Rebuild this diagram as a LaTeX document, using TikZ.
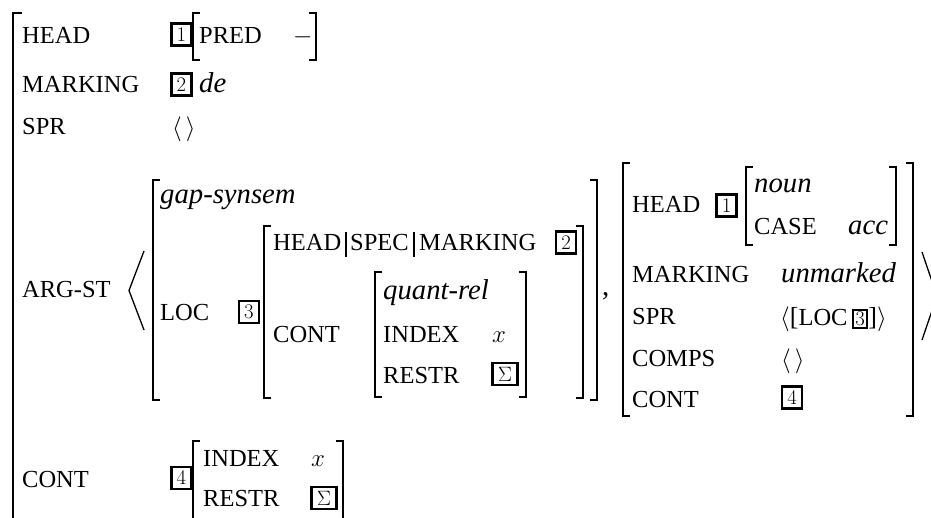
\documentclass[tikz,border=0pt]{standalone}
\usepackage{fontspec}
\setmainfont{Liberation Serif}
\newcommand{\tgx}[1]{{\setlength{\fboxsep}{1.5pt}\setlength{\fboxrule}{2pt}\fbox{\fontsize{20}{20}\selectfont$#1$}}}
\begin{document}
\begin{tikzpicture}[x=1pt,y=-1pt,
  fn/.style={anchor=base west, inner sep=0pt, font=\fontsize{24.5}{26}\selectfont},
  vl/.style={anchor=base west, inner sep=0pt, font=\fontsize{28.7}{30}\selectfont\itshape},
  mth/.style={anchor=base west, inner sep=0pt, font=\fontsize{25}{26}\selectfont},
  ang/.style={anchor=base west, inner sep=0pt, font=\fontsize{29}{30}\selectfont},
  tagb/.style={draw, line width=2.2pt, minimum width=20pt, minimum height=22pt, inner sep=0pt, font=\fontsize{20}{20}\selectfont},
  brk/.style={line width=1.6pt},
  bar/.style={line width=1.2pt}]
\useasboundingbox (0,0) rectangle (931,518);
\clip (0,0) rectangle (931,518);

% outer bracket
\draw[brk] (22,13) -- (13,13) -- (13,540);

% row HEAD
\node[fn] (h1) at (22,44) {HEAD};
\node[tagb] (t1a) at (181.5,34.5) {$1$};
\draw[brk] (200,13) -- (193,13) -- (193,60) -- (200,60);
\node[fn] (pred) at (199,44) {PRED};
\node[ang] (minus) at (293,44) {$-$};
\draw[brk] (309,13) -- (316,13) -- (316,60) -- (309,60);

% row MARKING
\node[fn] (m1) at (22,93) {MARKING};
\node[tagb] (t2a) at (181.5,84.5) {$2$};
\node[vl] (de) at (199,93) {de};

% row SPR
\node[fn] (s1) at (22,135) {SPR};
\node[ang] (spr1) at (172,136) {$\langle\,\rangle$};

% row ARG-ST
\node[fn] (arg) at (22,298) {ARG-ST};
\draw[line width=1.3pt] (144,251) -- (129,290.5) -- (144,330);
% gap-synsem
\draw[brk] (160,180) -- (153,180) -- (153,400) -- (160,400);
\draw[brk] (590,180) -- (597,180) -- (597,400) -- (590,400);
\node[vl] (gap) at (160,204) {gap-synsem};
\node[fn] (loc) at (160,320) {LOC};
\node[tagb] (t3a) at (249,312) {$3$};
% HEAD|SPEC
\draw[brk] (271,226) -- (264,226) -- (264,398) -- (271,398);
\draw[brk] (576,226) -- (583,226) -- (583,398) -- (576,398);
\node[fn] (hs1) at (273,251) {HEAD};
\draw[bar] (346,232) -- (346,257);
\node[fn] (hs2) at (350,251) {SPEC};
\draw[bar] (414,232) -- (414,257);
\node[fn] (hs3) at (419,251) {MARKING};
\node[tagb] (t2b) at (566,242.5) {$2$};
\node[fn] (cont2) at (273,342) {CONT};
% quant-rel
\draw[brk] (382,272) -- (375,272) -- (375,397) -- (382,397);
\draw[brk] (519,272) -- (526,272) -- (526,397) -- (519,397);
\node[vl] (qr) at (383,300) {quant-rel};
\node[fn] (idx2) at (383,342) {INDEX};
\node[mth] (x2) at (492,342) {$x$};
\node[fn] (rs2) at (383,383) {RESTR};
\node[tagb, minimum width=25pt] (sg2) at (505,374) {$\Sigma$};
\node[vl, font=\fontsize{28.7}{30}\selectfont] (comma) at (602,296) {,};

% second list element
\draw[brk] (630,163) -- (623,163) -- (623,416) -- (630,416);
\draw[brk] (906,163) -- (913,163) -- (913,416) -- (906,416);
\node[fn] (h3) at (632,213) {HEAD};
\node[tagb] (t1b) at (726.5,205.5) {$1$};
\draw[brk] (753,167) -- (746,167) -- (746,245) -- (753,245);
\draw[brk] (889,167) -- (896,167) -- (896,245) -- (889,245);
\node[vl] (noun) at (754,193) {noun};
\node[fn] (case) at (754,235) {CASE};
\node[vl] (acc) at (848,235) {acc};
\node[fn] (m3) at (632,283) {MARKING};
\node[vl] (unm) at (781,283) {unmarked};
\node[fn] (s3) at (632,325) {SPR};
\node[ang] (spr3) at (780,326) {$\langle$\fontsize{26}{27}\selectfont[{\fontsize{24.5}{26}\selectfont LOC}\,\tgx{3}]$\rangle$};
\node[fn] (c3) at (632,366) {COMPS};
\node[ang] (comps3) at (781,367) {$\langle\,\rangle$};
\node[fn] (ct3) at (632,407) {CONT};
\node[tagb] (t4a) at (792,397.5) {$4$};
\draw[line width=1.3pt] (922,252) -- (937,296) -- (922,340);

% row CONT
\node[fn] (ct1) at (22,487) {CONT};
\node[tagb] (t4b) at (181.5,478) {$4$};
\draw[brk] (200,441) -- (193,441) -- (193,540);
\draw[brk] (336,441) -- (343,441) -- (343,540);
\node[fn] (idx1) at (203,466) {INDEX};
\node[mth] (x1) at (311,466) {$x$};
\node[fn] (rs1) at (203,506) {RESTR};
\node[tagb, minimum width=25pt] (sg1) at (324,498) {$\Sigma$};
\end{tikzpicture}
\end{document}
